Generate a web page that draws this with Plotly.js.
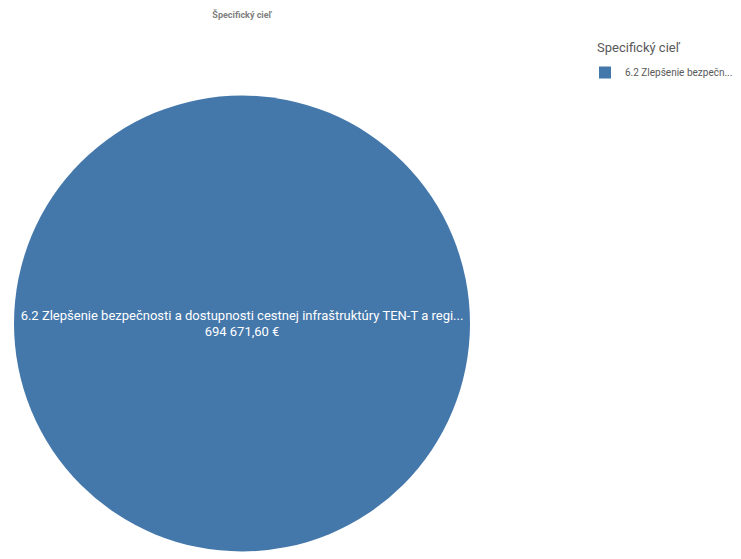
<!DOCTYPE html>
<html>
<head>
<meta charset="utf-8">
<script src="https://cdn.plot.ly/plotly-3.0.1.min.js"></script>
<style>html,body{margin:0;padding:0;background:#fff;}#chart{width:741px;height:559px;}</style>
</head>
<body>
<div id="chart"></div>
<script>
const categories = ["6.2 Zlepšenie bezpečnosti a dostupnosti cestnej infraštruktúry TEN-T a regi..."];
const legendLabels = ["6.2 Zlepšenie bezpečn..."];
const values = [694671.60];
const valueLabels = ["694 671,60 €"];
const legendTitle = "Specifický cieľ";
const chartTitle = "Špecifický cieľ";

const W = 741, H = 559;
const trace = {
  type: 'pie',
  labels: legendLabels,
  values: values,
  customdata: categories.map((c, i) => [c, valueLabels[i]]),
  texttemplate: '%{customdata[0]}<br>%{customdata[1]}',
  textposition: 'inside',
  insidetextorientation: 'horizontal',
  insidetextfont: {color: '#ffffff', size: 13, family: 'Roboto, sans-serif'},
  marker: {colors: ['#4477aa'], line: {width: 0}},
  sort: false,
  hoverinfo: 'none',
  domain: {x: [14 / W, 470 / W], y: [1 - 555 / H, 1 - 92 / H]}
};

const layout = {
  width: W, height: H,
  margin: {l: 0, r: 0, t: 0, b: 0},
  paper_bgcolor: '#ffffff',
  font: {family: 'Roboto, sans-serif', color: '#595959'},
  title: {
    text: '<b>' + chartTitle + '</b>',
    font: {size: 9, color: '#7f7f7f', family: 'Roboto, sans-serif'},
    x: 242 / W, xanchor: 'center', y: 1 - 15 / H, yanchor: 'middle'
  },
  annotations: [{
    text: legendTitle, xref: 'paper', yref: 'paper',
    x: 595 / W, xanchor: 'left', y: 1 - 47 / H, yanchor: 'middle',
    showarrow: false, font: {size: 13, color: '#595959'}
  }],
  showlegend: true,
  legend: {
    x: 585 / W, xanchor: 'left', y: 1 - 58 / H, yanchor: 'top',
    font: {size: 10, color: '#595959'},
    itemwidth: 30,
    itemsizing: 'constant'
  }
};

Plotly.newPlot('chart', [trace], layout, {displayModeBar: false, staticPlot: true});
</script>
</body>
</html>
